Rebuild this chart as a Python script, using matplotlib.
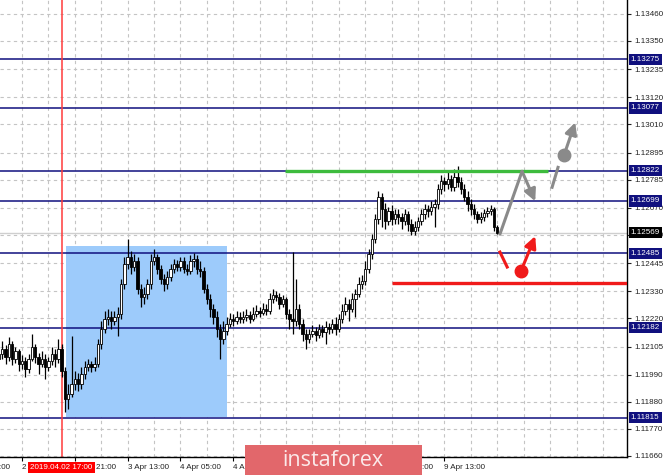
import numpy as np
import matplotlib.pyplot as plt
from matplotlib.patches import Rectangle
from matplotlib.transforms import blended_transform_factory

# EURUSD H1 bars, bar 7 = 2 Apr 05:00
closes = [1.12076, 1.12096, 1.12062, 1.12116, 1.12055, 1.12088, 1.12035, 1.12047, 1.12015, 1.12055,
          1.12104, 1.12062, 1.12035, 1.12055, 1.12023, 1.12047, 1.12076, 1.12055, 1.12096, 1.12007,
          1.11893, 1.11913, 1.11954, 1.11974, 1.11954, 1.11995, 1.12023, 1.12035, 1.12023, 1.12035,
          1.12116, 1.12177, 1.12218, 1.12226, 1.12210, 1.12226, 1.12238, 1.12360, 1.12441, 1.12470,
          1.12429, 1.12453, 1.12340, 1.12307, 1.12319, 1.12360, 1.12453, 1.12470, 1.12421, 1.12380,
          1.12360, 1.12388, 1.12421, 1.12441, 1.12429, 1.12453, 1.12421, 1.12413, 1.12453, 1.12461,
          1.12421, 1.12413, 1.12340, 1.12299, 1.12258, 1.12226, 1.12177, 1.12137, 1.12169, 1.12198,
          1.12218, 1.12210, 1.12226, 1.12218, 1.12226, 1.12234, 1.12218, 1.12238, 1.12250, 1.12242,
          1.12258, 1.12250, 1.12299, 1.12315, 1.12307, 1.12279, 1.12299, 1.12238, 1.12218, 1.12210,
          1.12258, 1.12198, 1.12157, 1.12137, 1.12157, 1.12169, 1.12153, 1.12177, 1.12165, 1.12185,
          1.12177, 1.12198, 1.12177, 1.12218, 1.12250, 1.12279, 1.12258, 1.12299, 1.12319, 1.12360,
          1.12372, 1.12421, 1.12482, 1.12543, 1.12624, 1.12713, 1.12664, 1.12616, 1.12656, 1.12624,
          1.12644, 1.12632, 1.12616, 1.12644, 1.12604, 1.12575, 1.12591, 1.12616, 1.12644, 1.12664,
          1.12656, 1.12673, 1.12685, 1.12746, 1.12778, 1.12766, 1.12786, 1.12754, 1.12794, 1.12774,
          1.12746, 1.12713, 1.12685, 1.12664, 1.12644, 1.12624, 1.12632, 1.12648, 1.12656, 1.12664,
          1.12591, 1.12569]
highs = [1.12116, 1.12129, 1.12112, 1.12145, 1.12129, 1.12104, 1.12096, 1.12072, 1.12062, 1.12076,
         1.12157, 1.12116, 1.12080, 1.12088, 1.12076, 1.12062, 1.12104, 1.12096, 1.12137, 1.12116,
         1.12023, 1.11954, 1.12149, 1.12007, 1.11999, 1.12023, 1.12047, 1.12055, 1.12047, 1.12062,
         1.12137, 1.12210, 1.12250, 1.12258, 1.12250, 1.12250, 1.12267, 1.12380, 1.12470, 1.12543,
         1.12494, 1.12482, 1.12470, 1.12360, 1.12348, 1.12380, 1.12482, 1.12502, 1.12482, 1.12437,
         1.12400, 1.12413, 1.12441, 1.12461, 1.12457, 1.12470, 1.12470, 1.12441, 1.12478, 1.12486,
         1.12478, 1.12453, 1.12429, 1.12360, 1.12319, 1.12279, 1.12250, 1.12198, 1.12210, 1.12226,
         1.12242, 1.12238, 1.12250, 1.12246, 1.12250, 1.12258, 1.12250, 1.12267, 1.12275, 1.12267,
         1.12283, 1.12279, 1.12323, 1.12340, 1.12332, 1.12323, 1.12315, 1.12307, 1.12258, 1.12490,
         1.12380, 1.12279, 1.12218, 1.12177, 1.12177, 1.12193, 1.12185, 1.12198, 1.12193, 1.12210,
         1.12202, 1.12218, 1.12226, 1.12238, 1.12279, 1.12307, 1.12299, 1.12323, 1.12340, 1.12388,
         1.12396, 1.12453, 1.12502, 1.12563, 1.12644, 1.12738, 1.12729, 1.12689, 1.12673, 1.12681,
         1.12664, 1.12664, 1.12648, 1.12664, 1.12656, 1.12624, 1.12616, 1.12632, 1.12664, 1.12685,
         1.12681, 1.12697, 1.12705, 1.12766, 1.12802, 1.12794, 1.12819, 1.12802, 1.12827, 1.12839,
         1.12794, 1.12766, 1.12738, 1.12705, 1.12685, 1.12656, 1.12652, 1.12664, 1.12673, 1.12681,
         1.12673, 1.12599]
lows = [1.12023, 1.12055, 1.12035, 1.12047, 1.12031, 1.12039, 1.12007, 1.12015, 1.11982, 1.11999,
        1.12047, 1.12039, 1.11995, 1.12023, 1.11974, 1.12007, 1.12031, 1.12023, 1.12039, 1.11982,
        1.11840, 1.11852, 1.11901, 1.11926, 1.11922, 1.11934, 1.11974, 1.12007, 1.12003, 1.12007,
        1.12023, 1.12096, 1.12161, 1.12193, 1.12177, 1.12193, 1.12149, 1.12218, 1.12340, 1.12421,
        1.12400, 1.12413, 1.12319, 1.12267, 1.12279, 1.12299, 1.12340, 1.12437, 1.12400, 1.12360,
        1.12332, 1.12340, 1.12372, 1.12405, 1.12413, 1.12413, 1.12405, 1.12396, 1.12400, 1.12429,
        1.12400, 1.12388, 1.12323, 1.12279, 1.12226, 1.12198, 1.12145, 1.12055, 1.12116, 1.12153,
        1.12185, 1.12189, 1.12198, 1.12202, 1.12202, 1.12210, 1.12202, 1.12210, 1.12226, 1.12226,
        1.12234, 1.12234, 1.12238, 1.12283, 1.12291, 1.12258, 1.12267, 1.12218, 1.12177, 1.12157,
        1.12189, 1.12177, 1.12129, 1.12096, 1.12120, 1.12145, 1.12129, 1.12141, 1.12145, 1.12116,
        1.12157, 1.12161, 1.12153, 1.12165, 1.12202, 1.12234, 1.12210, 1.12246, 1.12226, 1.12307,
        1.12340, 1.12356, 1.12405, 1.12461, 1.12526, 1.12604, 1.12591, 1.12583, 1.12599, 1.12599,
        1.12604, 1.12604, 1.12583, 1.12599, 1.12575, 1.12559, 1.12559, 1.12575, 1.12599, 1.12624,
        1.12632, 1.12640, 1.12591, 1.12664, 1.12725, 1.12738, 1.12746, 1.12738, 1.12738, 1.12754,
        1.12725, 1.12697, 1.12656, 1.12640, 1.12624, 1.12608, 1.12608, 1.12616, 1.12632, 1.12640,
        1.12575, 1.12563]
first_open = 1.12055
opens = [first_open] + closes[:-1]

level_lines = [1.13275, 1.13077, 1.12822, 1.12699, 1.12485, 1.12182, 1.11815]
y_ticks = [1.13460, 1.13350, 1.13235, 1.13120, 1.13010, 1.12895, 1.12785, 1.12670, 1.12560,
           1.12445, 1.12330, 1.12220, 1.12105, 1.11990, 1.11880, 1.11770, 1.11660]
last_price = 1.12569

x_tick_bars = [-9, 7, 23, 39, 55, 71, 87, 103, 119, 135]
x_tick_labels = ['1 Apr 13:00', '2 Apr 05:00', '2 Apr 21:00', '3 Apr 13:00', '4 Apr 05:00',
                 '4 Apr 21:00', '5 Apr 13:00', '8 Apr 05:00', '8 Apr 21:00', '9 Apr 13:00']
marker_bar = 19
marker_label = '2019.04.02 17:00'

# drawn objects
box_bars = (20.3, 69.1)
box_prices = (1.11816, 1.12514)
green_level, green_bars = 1.12822, (86.7, 166.4)
red_level, red_start = 1.12365, 119.1

# scenario arrows (bar, price)
grey_up = [(151.8, 1.12563), (158.5, 1.12819)]
grey_down = [(158.5, 1.12819), (162.5, 1.12697)]
grey_dash = [(167.6, 1.12754), (169.4, 1.12835)]
grey_dot, grey_tip = (171.2, 1.12884), (174.6, 1.13018)
red_dash = [(151.8, 1.12490), (154.0, 1.12429)]
red_dot, red_tip = (158.2, 1.12413), (162.5, 1.12555)

navy = '#10107e'
plt.rcParams['font.family'] = ['Liberation Sans', 'DejaVu Sans']

fig = plt.figure(figsize=(6.65, 4.76), dpi=100)
ax = fig.add_axes([0, 19 / 476, 627 / 665, 457 / 476])
ax.set_xlim(0.33, 190.3)
ax.set_ylim(1.11655, 1.13517)

# grid
for p in y_ticks:
    ax.axhline(p, color='#c4c4c4', lw=0.8, ls=(0, (3, 3)), zorder=0)
for b in range(-1, 191, 8):
    ax.axvline(b, color='#c4c4c4', lw=0.8, ls=(0, (3, 3)), zorder=0)

ax.add_patch(Rectangle((box_bars[0], box_prices[0]), box_bars[1] - box_bars[0],
                       box_prices[1] - box_prices[0], facecolor='#9dcbfb', edgecolor='none', zorder=1))

for p in level_lines:
    ax.axhline(p, color=navy, lw=1.1, zorder=2)
ax.axhline(last_price, color='#cfcfcf', lw=1.0, zorder=2)
ax.axvline(marker_bar, color='#ff3b3b', lw=1.1, zorder=2)

# candles
x = np.arange(len(closes))
o = np.array(opens); c = np.array(closes)
ax.vlines(x, lows, highs, color='black', lw=0.9, zorder=3)
bottoms = np.minimum(o, c)
heights = np.maximum(np.abs(c - o), 0.000015)
faces = ['white' if cc > oo else 'black' for oo, cc in zip(o, c)]
ax.bar(x, heights, width=0.72, bottom=bottoms, color=faces, edgecolor='black', linewidth=0.6, zorder=4)

ax.plot(green_bars, [green_level] * 2, color='#3dbb3d', lw=2.4, zorder=5, solid_capstyle='butt')
ax.plot([red_start, 190.3], [red_level] * 2, color='#f01a1a', lw=2.4, zorder=5, solid_capstyle='butt')

grey = '#8a8a8a'
red = '#f01a1a'
arrow_kw = dict(arrowstyle='-|>,head_length=0.7,head_width=0.35', lw=2.2, shrinkA=0, shrinkB=0)
ax.plot(*zip(*grey_up), color=grey, lw=2.2, zorder=6, solid_capstyle='round')
ax.annotate('', xy=grey_down[1], xytext=grey_down[0], zorder=6,
            arrowprops=dict(color=grey, **arrow_kw))
ax.plot(*zip(*grey_dash), color=grey, lw=2.2, zorder=6)
ax.plot(*grey_dot, 'o', color=grey, ms=9, zorder=6)
ax.annotate('', xy=grey_tip, xytext=grey_dot, zorder=6, arrowprops=dict(color=grey, **arrow_kw))
ax.plot(*zip(*red_dash), color=red, lw=2.2, zorder=6)
ax.plot(*red_dot, 'o', color=red, ms=9, zorder=6)
ax.annotate('', xy=red_tip, xytext=red_dot, zorder=6, arrowprops=dict(color=red, **arrow_kw))

# axes frame and ticks
for s in ['left', 'top']:
    ax.spines[s].set_visible(False)
ax.spines['right'].set_linewidth(1.0)
ax.spines['bottom'].set_linewidth(1.0)
ax.yaxis.tick_right()
ax.set_yticks(y_ticks)
ax.set_yticklabels([f'{p:.5f}' for p in y_ticks])
ax.tick_params(axis='y', length=3, width=0.8, labelsize=5.8, pad=2, colors='#222222')
ax.set_xticks([b for b in x_tick_bars if b > 0])
ax.set_xticklabels([])
ax.tick_params(axis='x', length=3, width=0.8)

trans = blended_transform_factory(ax.transData, ax.transAxes)
for b, lab in zip(x_tick_bars, x_tick_labels):
    ax.text(b, -0.022, lab, transform=trans, ha='left', va='center', fontsize=5.8,
            color='#222222', clip_on=False, zorder=7)
ax.text(marker_bar, -0.022, marker_label, transform=trans, ha='center', va='center',
        fontsize=5.8, color='white', clip_on=False, zorder=8,
        bbox=dict(boxstyle='square,pad=0.25', facecolor='#ff0000', edgecolor='none'))

rtrans = blended_transform_factory(ax.transAxes, ax.transData)
for p in level_lines:
    ax.text(1.006, p, f'{p:.5f}', transform=rtrans, ha='left', va='center', fontsize=5.8,
            color='white', clip_on=False, zorder=8,
            bbox=dict(boxstyle='square,pad=0.28', facecolor=navy, edgecolor='none'))
ax.text(1.006, last_price, f'{last_price:.5f}', transform=rtrans, ha='left', va='center',
        fontsize=5.8, color='white', clip_on=False, zorder=8,
        bbox=dict(boxstyle='square,pad=0.28', facecolor='black', edgecolor='none'))

# watermark
fig.add_artist(Rectangle((245 / 665, 1 / 476), 177 / 665, 30 / 476, transform=fig.transFigure,
                         facecolor='#e2676b', edgecolor='none', zorder=20))
fig.text(333 / 665, 16 / 476, 'instaforex', ha='center', va='center', fontsize=15.5,
         color='#fbeaea', family='Open Sans', zorder=21)

fig.savefig('out.png', dpi=100)
